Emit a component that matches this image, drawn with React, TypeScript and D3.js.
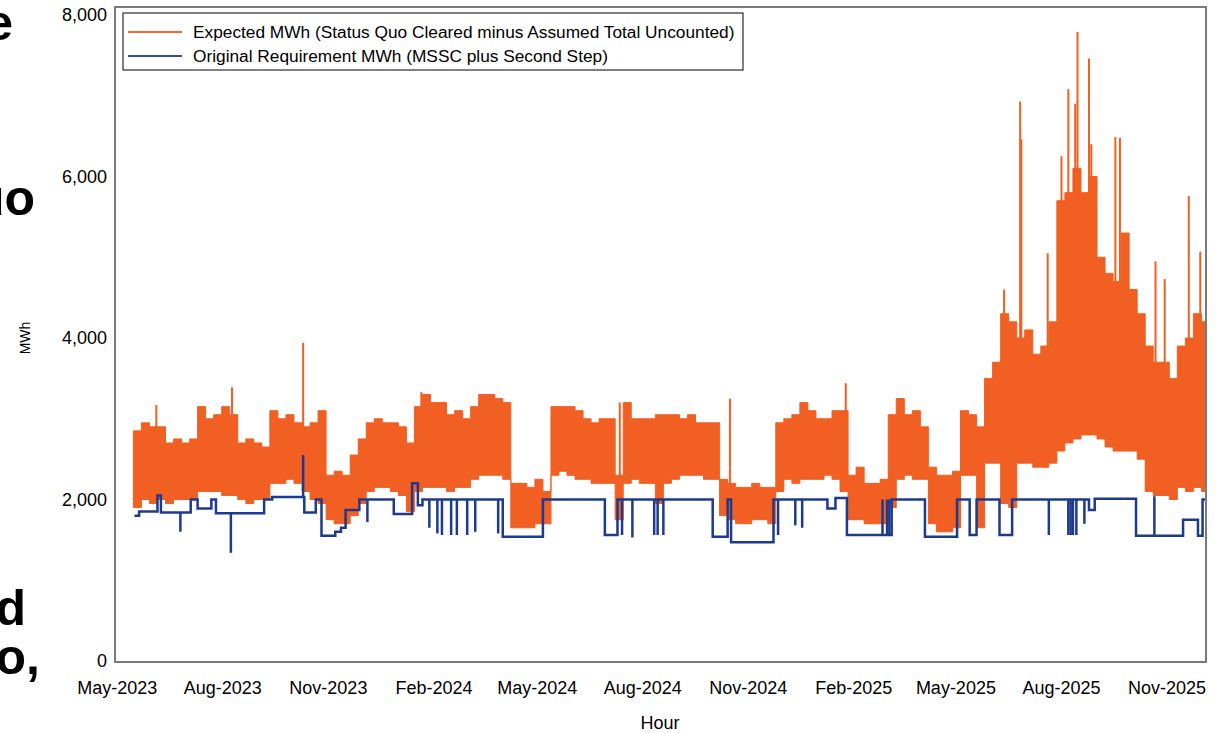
import * as d3 from 'd3';

// weekly envelope of the hourly "Expected MWh" series (week starting Monday)
const firstWeek = '2023-05-15';
const orangeHigh = [
  2850, 2950, 2900, 2900, 2700, 2750, 2700, 2750, 3150, 3000, 3050, 3150, 3050, 2700, 2750, 2700, 2650,
  3100, 3000, 3050, 2950, 2900, 2950, 3100, 2300, 2350, 2300, 2550, 2750, 2950, 3000, 2950, 2950, 2900,
  2700, 3150, 3300, 3200, 3200, 3050, 3100, 3000, 3150, 3300, 3300, 3250, 3200, 2200, 2200, 2150, 2250,
  2100, 3150, 3150, 3150, 3100, 3000, 2950, 3000, 3000, 2300, 3200, 3000, 3000, 3000, 3050, 3050, 3050,
  3000, 3050, 2950, 2950, 2950, 2250, 2200, 2150, 2150, 2200, 2150, 2150, 2950, 3000, 3050, 3200, 3100,
  3000, 3000, 3100, 3100, 2300, 2400, 2200, 2200, 2250, 3050, 3250, 3050, 3100, 2900, 2400, 2300, 2300,
  2350, 3100, 3050, 2900, 3500, 3700, 4300, 4200, 4000, 4100, 3800, 3900, 4200, 5700, 5800, 6100, 5800,
  6000, 5000, 4800, 4700, 5300, 4600, 4300, 3900, 3700, 3700, 3500, 3900, 4000, 4300, 4200,
];
const orangeLow = [
  1900, 2000, 1950, 2000, 1950, 2000, 2000, 2000, 2100, 2100, 2100, 2050, 2050, 2000, 1950, 2000, 2000,
  2200, 2200, 2250, 2200, 2100, 2000, 1950, 1750, 1700, 1700, 1800, 1950, 2100, 2150, 2150, 2100, 2050,
  1850, 2100, 2150, 2150, 2150, 2100, 2150, 2150, 2250, 2300, 2300, 2300, 2250, 1650, 1650, 1650, 1700,
  1700, 2300, 2350, 2300, 2250, 2250, 2200, 2200, 2200, 1750, 2200, 2250, 2200, 2200, 1950, 2200, 2250,
  2300, 2300, 2300, 2250, 2250, 1800, 1750, 1700, 1700, 1750, 1750, 1700, 2100, 2250, 2200, 2250, 2250,
  2250, 2300, 2250, 2100, 1750, 1750, 1700, 1700, 1700, 1900, 2250, 2300, 2250, 2250, 1700, 1600, 1600,
  1650, 2300, 2300, 1650, 2450, 2450, 1950, 1900, 2450, 2450, 2400, 2400, 2450, 2600, 2700, 2750, 2800,
  2800, 2750, 2650, 2600, 2600, 2600, 2500, 2100, 2050, 2050, 2000, 2150, 2100, 2150, 2100,
];
const lastHour = '2025-12-05';

// single hours that stick out above the weekly envelope
const orangeSpikes: [string, number][] = [
  ['2023-06-04', 3170], ['2023-08-09', 3390], ['2023-10-10', 3940], ['2024-01-21', 3330],
  ['2024-07-12', 3200], ['2024-10-16', 3250], ['2025-01-25', 3440], ['2025-06-12', 4600],
  ['2025-06-26', 6930], ['2025-06-27', 6460], ['2025-07-20', 5050], ['2025-08-01', 6250],
  ['2025-08-07', 7080], ['2025-08-13', 6900], ['2025-08-15', 7790], ['2025-08-25', 7460],
  ['2025-08-27', 6400], ['2025-09-17', 6490], ['2025-09-21', 6480], ['2025-10-22', 4950],
  ['2025-10-30', 4730], ['2025-11-20', 5760], ['2025-11-30', 5070],
];

// "Original Requirement MWh": level changes
const blueSteps: [string, number][] = [
  ['2023-05-16', 1800], ['2023-05-20', 1850], ['2023-06-05', 2050], ['2023-06-08', 1840],
  ['2023-07-04', 2000], ['2023-07-10', 1890], ['2023-07-22', 2000], ['2023-07-26', 1830],
  ['2023-09-06', 2000], ['2023-09-13', 2030], ['2023-10-11', 1840], ['2023-10-21', 2000],
  ['2023-10-26', 1550], ['2023-11-07', 1600], ['2023-11-12', 1650], ['2023-11-16', 1870],
  ['2023-11-28', 2000], ['2023-12-28', 1820], ['2024-01-13', 2200], ['2024-01-18', 1930],
  ['2024-01-22', 2000], ['2024-04-01', 1540], ['2024-05-06', 2000], ['2024-06-29', 1560],
  ['2024-07-10', 2000], ['2024-10-01', 1540], ['2024-10-14', 2000], ['2024-10-17', 1470],
  ['2024-11-23', 2000], ['2025-01-09', 1890], ['2025-01-16', 2020], ['2025-01-26', 1560],
  ['2025-03-06', 2000], ['2025-04-04', 1540], ['2025-05-02', 2000], ['2025-05-13', 1560],
  ['2025-05-19', 2000], ['2025-06-08', 1560], ['2025-06-19', 2000], ['2025-08-25', 1870],
  ['2025-08-30', 2010], ['2025-10-05', 1550], ['2025-11-15', 1750], ['2025-11-28', 1550],
  ['2025-12-02', 2000], ['2025-12-05', 2000],
];
// short outages / bumps in the requirement
const blueSpikes: [string, number][] = [
  ['2023-06-25', 1600], ['2023-08-08', 1340], ['2023-10-10', 2550], ['2023-12-05', 1720],
  ['2024-01-28', 1650], ['2024-02-04', 1580], ['2024-02-08', 1560], ['2024-02-16', 1560],
  ['2024-02-21', 1560], ['2024-03-01', 1560], ['2024-03-08', 1600], ['2024-03-28', 1580],
  ['2024-07-14', 1560], ['2024-07-23', 1530], ['2024-08-11', 1560], ['2024-08-14', 1560],
  ['2024-08-19', 1560], ['2024-11-27', 1560], ['2024-12-12', 1680], ['2024-12-18', 1650],
  ['2025-02-26', 2000], ['2025-03-02', 2000], ['2025-03-04', 2000], ['2025-07-21', 1560],
  ['2025-08-07', 1560], ['2025-08-09', 1560], ['2025-08-11', 1560], ['2025-08-14', 1560],
  ['2025-08-21', 1700], ['2025-10-21', 2040],
];

const yTicks = [0, 2000, 4000, 6000, 8000];
const xTicks = ['2023-05-01', '2023-08-01', '2023-11-01', '2024-02-01', '2024-05-01', '2024-08-01',
  '2024-11-01', '2025-02-01', '2025-05-01', '2025-08-01', '2025-11-01'];
const legendLabels = [
  'Expected MWh (Status Quo Cleared minus Assumed Total Uncounted)',
  'Original Requirement MWh (MSSC plus Second Step)',
];
const slideFragments = ['e', 'uo', 'd', 'o,'];

const ORANGE = '#f15f22';
const BLUE = '#1c3a8e';
const FONT = '"Liberation Sans", Arial, Helvetica, sans-serif';

const parse = d3.timeParse('%Y-%m-%d');

export default function App() {
  const W = 1219, H = 733;
  const left = 115, right = 1206, top = 7, bottom = 662;

  const x = d3.scaleTime()
    .domain([parse('2023-04-29')!, parse(lastHour)!])
    .range([left, right]);
  const y = d3.scaleLinear()
    .domain([0, 8000])
    .range([661, 15]);

  const start = parse(firstWeek)!;
  const weeks = orangeHigh.map((h, i) => ({ date: d3.timeDay.offset(start, 7 * i), hi: h, lo: orangeLow[i] }));
  weeks.push({ date: parse(lastHour)!, hi: orangeHigh[orangeHigh.length - 1], lo: orangeLow[orangeLow.length - 1] });

  const band = d3.area<{ date: Date; hi: number; lo: number }>()
    .x(d => x(d.date))
    .y0(d => y(d.lo))
    .y1(d => y(d.hi))
    .curve(d3.curveStepAfter);

  const steps = blueSteps.map(([d, v]) => ({ date: parse(d)!, v }));
  const blueLine = d3.line<{ date: Date; v: number }>()
    .x(d => x(d.date))
    .y(d => y(d.v))
    .curve(d3.curveStepAfter);

  const findIdx = d3.bisector((d: { date: Date }) => d.date).right;
  const levelAt = (dt: Date) => steps[Math.max(0, findIdx(steps, dt) - 1)].v;
  const lowAt = (dt: Date) => weeks[Math.max(0, findIdx(weeks, dt) - 1)].lo;

  return (
    <div style={{ position: 'absolute', left: 0, top: 0 }}>
      <svg width={W} height={H} style={{ display: 'block', background: '#fff' }}>
        <defs>
          <clipPath id="plot">
            <rect x={left} y={top} width={right - left} height={bottom - top} />
          </clipPath>
        </defs>

        {/* cut-off slide text on the left */}
        {slideFragments.map((t, i) => (
          <text key={t} x={[13, 35, 26, 40][i]} y={[40, 215, 625, 674][i]} textAnchor="end"
            fontFamily={FONT} fontWeight="bold" fontSize={50} fill="#000">{t}</text>
        ))}

        <g clipPath="url(#plot)">
          <path d={band(weeks)!} fill={ORANGE} stroke={ORANGE} strokeWidth={1} />
          {orangeSpikes.map(([d, v]) => {
            const dt = parse(d)!;
            return <line key={d + v} x1={x(dt)} x2={x(dt)} y1={y(v)} y2={y(lowAt(dt))}
              stroke={ORANGE} strokeWidth={2} />;
          })}
          <path d={blueLine(steps)!} fill="none" stroke={BLUE} strokeWidth={2.5} />
          {blueSpikes.map(([d, v]) => {
            const dt = parse(d)!;
            return <line key={d + v} x1={x(dt)} x2={x(dt)} y1={y(v)} y2={y(levelAt(dt))}
              stroke={BLUE} strokeWidth={2.5} />;
          })}
        </g>

        <rect x={left} y={top} width={right - left} height={bottom - top}
          fill="none" stroke="#7a7a7a" strokeWidth={2} />

        {yTicks.map(t => (
          <text key={t} x={107} y={y(t)} dy="0.35em" textAnchor="end"
            fontFamily={FONT} fontSize={18} fill="#000">{d3.format(',')(t)}</text>
        ))}
        {xTicks.map(t => (
          <text key={t} x={x(parse(t)!)} y={694} textAnchor="middle"
            fontFamily={FONT} fontSize={18} fill="#000">{d3.timeFormat('%b-%Y')(parse(t)!)}</text>
        ))}
        <text transform="translate(30,338) rotate(-90)" textAnchor="middle"
          fontFamily={FONT} fontSize={14} fill="#000">MWh</text>
        <text x={660} y={729} textAnchor="middle" fontFamily={FONT} fontSize={18} fill="#000">Hour</text>

        <g>
          <rect x={123} y={13} width={620} height={57} fill="#fff" stroke="#000" strokeWidth={1} />
          {legendLabels.map((l, i) => (
            <g key={l}>
              <line x1={128} x2={182} y1={32 + 24 * i} y2={32 + 24 * i}
                stroke={i === 0 ? '#f26a36' : '#3050a0'} strokeWidth={2} />
              <text x={193} y={32 + 24 * i} dy="0.35em" fontFamily={FONT} fontSize={17.3} fill="#000">{l}</text>
            </g>
          ))}
        </g>
      </svg>
    </div>
  );
}
